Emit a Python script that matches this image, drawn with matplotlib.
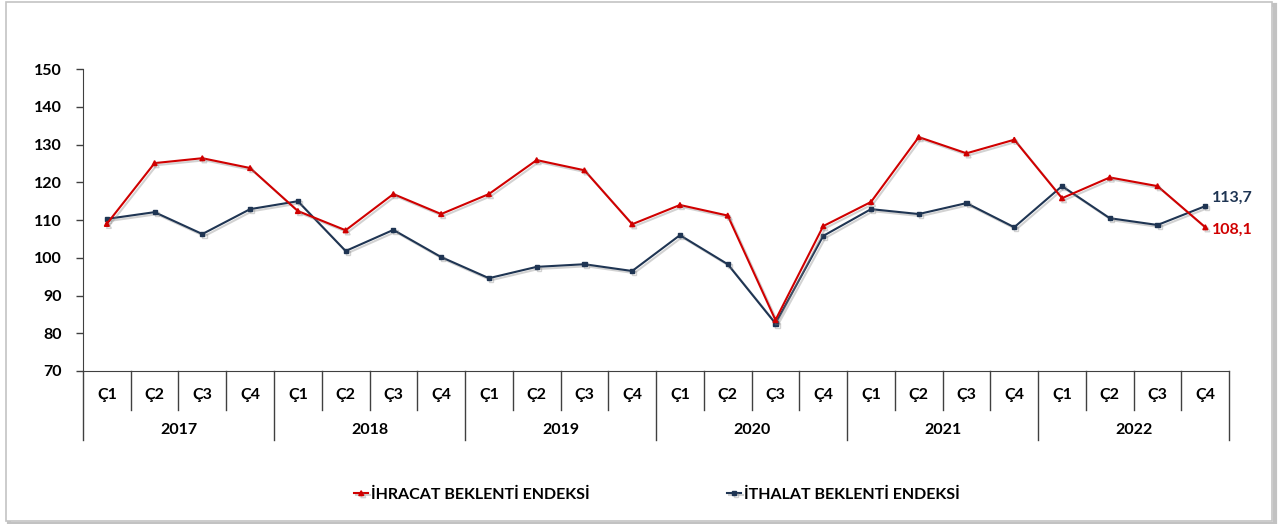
import numpy as np
import matplotlib.pyplot as plt
import matplotlib.patheffects as pe
from matplotlib.patches import Rectangle
from matplotlib.transforms import blended_transform_factory

plt.rcParams['font.family'] = ['Lato', 'DejaVu Sans']

years = ['2017', '2018', '2019', '2020', '2021', '2022']
quarters = ['Ç1', 'Ç2', 'Ç3', 'Ç4']

ihracat = [109.0, 125.1, 126.4, 123.8,
           112.4, 107.3, 116.9, 111.6,
           116.9, 125.9, 123.2, 108.9,
           114.0, 111.2, 83.5, 108.4,
           114.8, 132.0, 127.7, 131.3,
           115.8, 121.3, 119.0, 108.1]
ithalat = [110.3, 112.1, 106.3, 112.9,
           115.0, 101.8, 107.4, 100.2,
           94.6, 97.6, 98.3, 96.5,
           106.0, 98.3, 82.6, 105.8,
           112.9, 111.6, 114.5, 108.1,
           119.0, 110.5, 108.7, 113.7]

red = '#D00000'
navy = '#1F3553'

fig = plt.figure(figsize=(12.8, 5.24), dpi=100)

# chart frame with a soft shadow on right and bottom
W, H = 1280.0, 524.0
fig.patches.append(Rectangle((9 / W, 0 / H), 1266 / W, 519 / H, transform=fig.transFigure,
                             facecolor='none', edgecolor='#A8A8A8', lw=3, alpha=0.7, zorder=-2))
fig.patches.append(Rectangle((6 / W, 3 / H), 1266 / W, 519 / H, transform=fig.transFigure,
                             facecolor='white', edgecolor='#C4C4C4', lw=1.2, zorder=-1))

ax = fig.add_axes([0.0648, 0.292, 0.8955, 0.576])
ax.set_zorder(1)
ax.patch.set_alpha(0)

x = np.arange(len(ihracat))
shadow = [pe.SimpleLineShadow(offset=(1.5, -1.5), shadow_color='gray', alpha=0.35), pe.Normal()]
ax.plot(x, ihracat, color=red, lw=1.5, marker='^', ms=3.5, label='İHRACAT BEKLENTİ ENDEKSİ',
        path_effects=shadow, zorder=3)
ax.plot(x, ithalat, color=navy, lw=1.5, marker='s', ms=3, label='İTHALAT BEKLENTİ ENDEKSİ',
        path_effects=shadow, zorder=2)

ax.set_xlim(-0.5, len(x) - 0.5)
ax.set_ylim(70, 150)
ax.set_yticks(np.arange(70, 151, 10))
for t in ax.get_yticklabels():
    t.set_fontweight('bold')
    t.set_fontsize(11.5)
ax.tick_params(axis='y', length=5, width=1, color='#404040', pad=10)
ax.set_xticks([])
for s in ['top', 'right']:
    ax.spines[s].set_visible(False)
ax.spines['left'].set_color('#404040')
ax.spines['bottom'].set_color('#404040')

# two-level category axis
tr = blended_transform_factory(ax.transData, ax.transAxes)
for k in range(len(x) + 1):
    low = -0.228 if k % 4 == 0 else -0.128
    ax.plot([k - 0.5, k - 0.5], [0, low], color='#404040', lw=1, transform=tr, clip_on=False)
for i in x:
    ax.text(i, -0.079, quarters[i % 4], transform=tr, ha='center', va='center',
            fontsize=11.5, fontweight='bold')
for j, yr in enumerate(years):
    ax.text(j * 4 + 1.5, -0.195, yr, transform=tr, ha='center', va='center',
            fontsize=11.5, fontweight='bold')

# end labels
ax.annotate('113,7', (x[-1], ithalat[-1]), xytext=(5, 6), textcoords='offset points',
            color=navy, fontsize=11.5, fontweight='bold', va='center', annotation_clip=False)
ax.annotate('108,1', (x[-1], ihracat[-1]), xytext=(5, -2), textcoords='offset points',
            color=red, fontsize=11.5, fontweight='bold', va='center', annotation_clip=False)

fig.legend(loc='lower center', bbox_to_anchor=(0.513, 0.015), ncol=2, frameon=False,
           handlelength=0.9, handletextpad=0.15, columnspacing=8.6,
           prop={'weight': 'bold', 'size': 11.5})

fig.savefig('out.png', dpi=100)
